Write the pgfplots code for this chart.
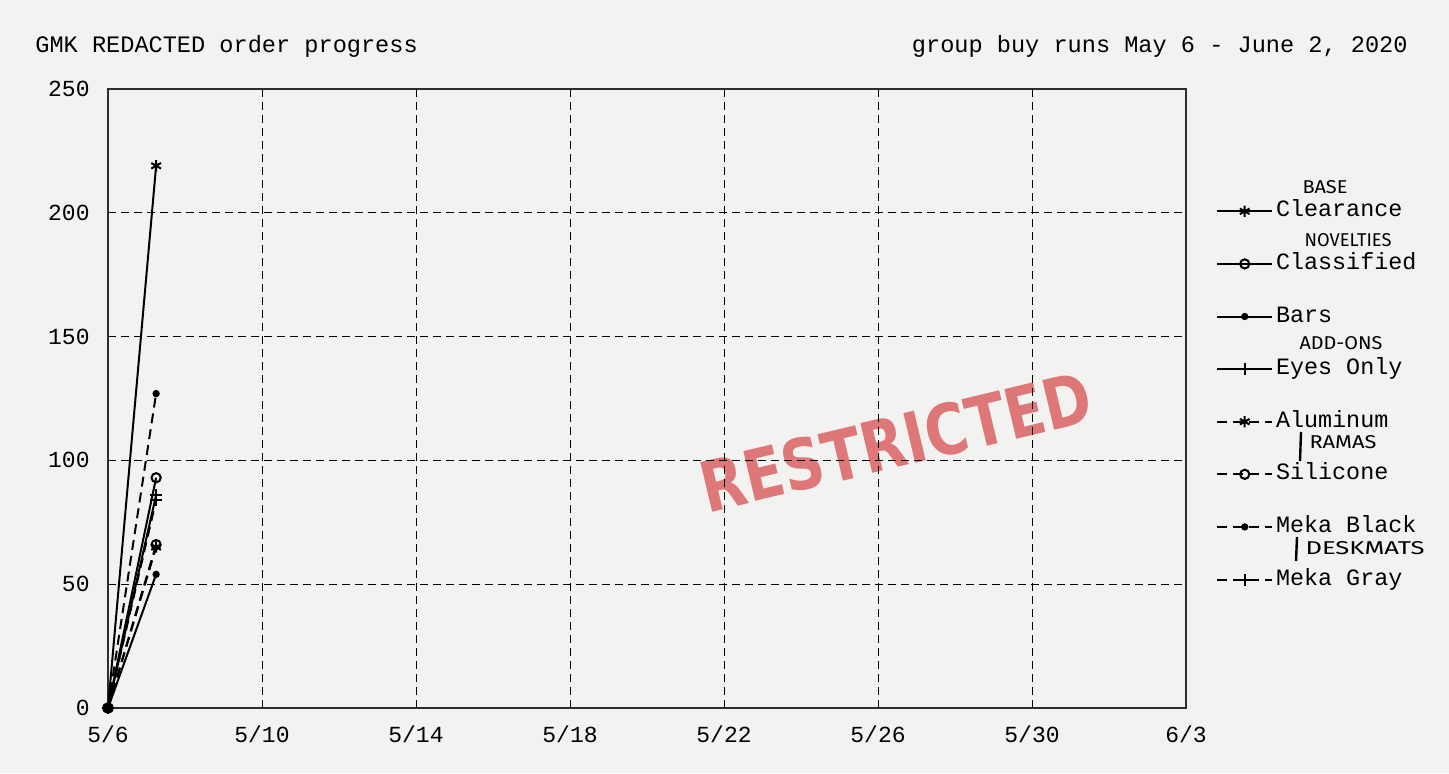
\documentclass[border=0pt]{standalone}
\usepackage{pgfplots}
\pgfplotsset{compat=1.18}
\usepackage{fontspec}
\setmainfont{Liberation Mono}
\newfontfamily\handfont{Fira Sans}
\newfontfamily\stampfont{DejaVu Sans}
\definecolor{paper}{RGB}{242,242,241}
\definecolor{stamp}{RGB}{214,78,80}
\definecolor{axisgray}{RGB}{45,45,45}
\newcommand{\hand}[2]{\resizebox{#1}{6.5pt}{\handfont #2}}
\begin{document}
\begin{tikzpicture}
\path[use as bounding box, fill=paper] (-54pt,-32.5pt) rectangle (670.5pt,354pt);
\node[rotate=13.4, text=stamp, opacity=0.75, inner sep=0pt] at (394pt,133pt)
  {\resizebox{200pt}{26pt}{\stampfont\bfseries RESTRICTED}};
\begin{axis}[
  at={(0,0)}, anchor=south west,
  scale only axis, width=539pt, height=309.5pt,
  xmin=0, xmax=28, ymin=0, ymax=250,
  xtick={0,4,...,28},
  xticklabels={5/6,5/10,5/14,5/18,5/22,5/26,5/30,6/3},
  ytick={0,50,...,250},
  major tick length=0pt,
  grid=major,
  major grid style={black, line width=0.5pt, dash pattern=on 4pt off 2.5pt},
  axis line style={axisgray, line width=1.2pt},
  tick label style={font=\fontsize{11.5}{12}\selectfont, inner sep=0pt},
  /pgf/number format/assume math mode=true,
  xticklabel style={anchor=base, yshift=-17pt},
  yticklabel style={anchor=east, xshift=-9pt},
  clip=false,
  legend style={draw=none, fill=none, at={(1,0.505)}, anchor=west, xshift=15pt,
    inner sep=0pt, row sep=12.8pt, font=\fontsize{11.7}{12}\selectfont,
    nodes={inner sep=1.5pt, text height=8pt, text depth=2.5pt}},
  legend cell align=left,
  legend image code/.code={\draw[mark repeat=2,mark phase=2,#1] plot coordinates {(0cm,0cm) (0.48cm,0cm) (0.96cm,0cm)};},
]
\addplot[black, line width=1pt, mark=asterisk, mark size=2.8pt, mark options={solid}] coordinates {(0,0) (1.25,219)};
\addlegendentry{Clearance}
\addplot[black, line width=1pt, mark=o, mark size=2.3pt, mark options={solid}] coordinates {(0,0) (1.25,93)};
\addlegendentry{Classified}
\addplot[black, line width=1pt, mark=*, mark size=1.3pt, mark options={solid}] coordinates {(0,0) (1.25,54)};
\addlegendentry{Bars}
\addplot[black, line width=1pt, mark=+, mark size=3pt, mark options={solid}] coordinates {(0,0) (1.25,86)};
\addlegendentry{Eyes Only}
\addplot[black, line width=1pt, dash pattern=on 5pt off 3pt, mark=asterisk, mark size=2.8pt, mark options={solid}] coordinates {(0,0) (1.25,65)};
\addlegendentry{Aluminum}
\addplot[black, line width=1pt, dash pattern=on 5pt off 3pt, mark=o, mark size=2.3pt, mark options={solid}] coordinates {(0,0) (1.25,66)};
\addlegendentry{Silicone}
\addplot[black, line width=1pt, dash pattern=on 5pt off 3pt, mark=*, mark size=1.3pt, mark options={solid}] coordinates {(0,0) (1.25,127)};
\addlegendentry{Meka Black}
\addplot[black, line width=1pt, dash pattern=on 5pt off 3pt, mark=+, mark size=3pt, mark options={solid}] coordinates {(0,0) (1.25,84)};
\addlegendentry{Meka Gray}
\end{axis}
\node[anchor=base west, inner sep=0pt, font=\fontsize{11.8}{12}\selectfont] at (-36.5pt,327.5pt) {GMK REDACTED order progress};
\node[anchor=base east, inner sep=0pt, font=\fontsize{11.8}{12}\selectfont] at (650pt,327.5pt) {group buy runs May 6 - June 2, 2020};
% handwritten annotations
\node[inner sep=0pt] at (608.5pt,260.5pt) {\hand{22.5pt}{BASE}};
\node[inner sep=0pt] at (620pt,234pt) {\hand{43.5pt}{NOVELTIES}};
\node[inner sep=0pt] at (616.5pt,182.5pt) {\hand{41.5pt}{ADD-ONS}};
\draw[line width=1.2pt] (596.5pt,138pt) -- (596pt,123.5pt);
\node[inner sep=0pt] at (617.5pt,133pt) {\hand{33.5pt}{RAMAS}};
\draw[line width=1.2pt] (594.5pt,85.5pt) -- (594pt,73.5pt);
\node[inner sep=0pt] at (628.5pt,80pt) {\hand{59.5pt}{DESKMATS}};
\end{tikzpicture}
\end{document}
